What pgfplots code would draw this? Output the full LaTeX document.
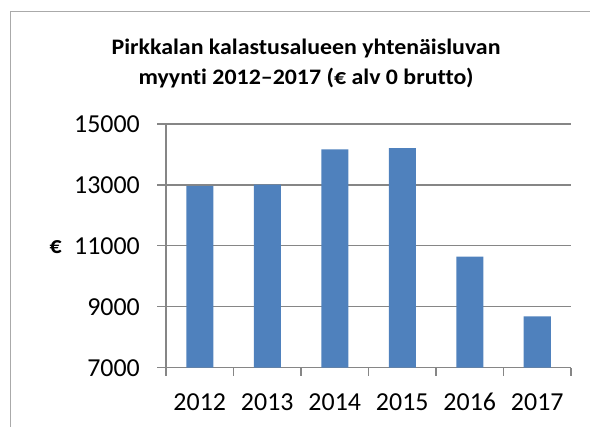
\documentclass[border=0pt]{standalone}
\usepackage{fontspec}
\setmainfont[Ligatures={NoCommon}]{Carlito}
\newfontfamily\titlefont[FakeStretch=1.08, Ligatures={NoCommon}]{Carlito}
\usepackage{pgfplots}
\pgfplotsset{compat=1.18}
\definecolor{barblue}{HTML}{4F81BD}
\definecolor{gridgray}{HTML}{868686}
\begin{document}
\begin{tikzpicture}
\useasboundingbox (0bp,0bp) rectangle (590bp,427bp);
\draw[gridgray!70, line width=1.2bp] (10.5bp,-2bp) -- (10.5bp,415.3bp) -- (592bp,415.3bp);
\node[anchor=base, inner sep=0pt, font=\titlefont\fontsize{22.2}{26}\selectfont\bfseries] at (306bp,372.7bp) {Pirkkalan kalastusalueen yhtenäisluvan};
\node[anchor=base, inner sep=0pt, font=\titlefont\fontsize{22.2}{26}\selectfont\bfseries] at (306bp,342bp) {myynti 2012–2017 (€ alv 0 brutto)};
\node[font=\fontsize{24}{28}\selectfont\bfseries] at (55.7bp,180bp) {€};
\begin{axis}[
  at={(166bp,59.3bp)}, anchor=south west,
  width=405bp, height=243.7bp, scale only axis,
  xmin=-0.5, xmax=5.5, ymin=7000, ymax=15000,
  ytick={7000,9000,...,15000},
  scaled y ticks=false,
  xtick={0,...,5}, xticklabels={2012,2013,2014,2015,2016,2017},
  minor xtick={-0.5,0.5,...,5.5},
  major x tick style={draw=none},
  minor tick length=8bp, major tick length=9bp,
  axis x line*=bottom, axis y line*=left,
  axis line style={-, gridgray, line width=1.2bp},
  tick style={gridgray, line width=1.2bp},
  tick align=outside,
  ymajorgrids, major grid style={gridgray, line width=1.2bp},
  ticklabel style={font=\fontsize{26}{30}\selectfont},
  /pgf/number format/assume math mode=true,
  /pgf/number format/set thousands separator={},
  yticklabel style={anchor=east, inner sep=0pt, xshift=-17bp},
  xticklabel style={anchor=base, inner sep=0pt, yshift=-34bp},
]
\addplot[ybar, bar width=27bp, fill=barblue, draw=none] coordinates {
  (0,12970) (1,13010) (2,14170) (3,14205) (4,10650) (5,8685)
};
\end{axis}
\end{tikzpicture}
\end{document}
